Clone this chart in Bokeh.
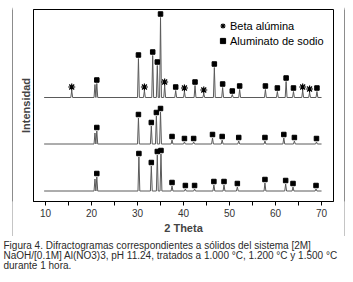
from bokeh.plotting import figure
from bokeh.layouts import column, row
from bokeh.models import (Range1d, FixedTicker, Label, Legend, LegendItem)
from bokeh.embed import file_html
from bokeh.resources import INLINE

# ---------------- data ----------------
x_ticks = [10, 20, 30, 40, 50, 60, 70]
x_minor = [5, 15, 25, 35, 45, 55, 65, 75]

# trace 1 (top): peak positions (2θ), heights (a.u.), phase ('s' aluminato, 'b' beta, '' none)
top_pos = [15.7, 20.75, 21.15, 30.2, 31.5, 33.3, 34.3, 35.0, 35.9, 38.3, 40.2, 42.5, 44.4,
           46.7, 48.5, 50.6, 52.2, 57.8, 60.4, 62.3, 63.9, 65.9, 67.4, 69.0]
top_h = [7, 13, 14, 39, 7, 42, 32, 80, 12, 7, 6, 12, 4,
         30, 10, 3, 8, 8, 6, 16, 6, 7, 5, 6]
top_phase = ['b', '', 's', 's', 'b', 's', 's', 's', 'b', 's', 'b', 's', 'b',
             's', 's', 's', 's', 's', 's', 's', 's', 'b', 'b', 's']

# trace 2 (middle)
mid_pos = [20.75, 21.15, 30.2, 33.0, 34.1, 35.0, 37.5, 40.2, 42.2, 46.3, 48.4, 52.0,
           57.7, 61.8, 64.1, 68.9]
mid_h = [11, 13, 26, 18, 28, 32, 4, 2, 2, 6, 4, 3, 3, 6, 3, 2]
mid_phase = ['', 's', 's', 's', 's', 's', 's', 's', 's', 's', 's', 's', 's', 's', 's', 's']

# trace 3 (bottom)
bot_pos = [20.75, 21.15, 30.3, 33.0, 34.3, 35.1, 37.5, 40.4, 42.4, 46.6, 48.8, 51.7,
           57.7, 62.2, 63.8, 68.8]
bot_h = [12, 14, 34, 25, 36, 37, 5, 2, 2, 6, 6, 4, 8, 7, 4, 2]
bot_phase = ['', 's', 's', 's', 's', 's', 's', 's', 's', 's', 's', 's', 's', 's', 's', 's']

offsets = [104, 57.5, 10.5]          # vertical offset of each trace
x_start, x_end = 9.7, 70.0            # scanned 2θ range

legend_labels = ["Beta alúmina", "Aluminato de sodio"]
x_label = "2 Theta"
y_label = "Intensidad"
caption = ["Figura 4. Difractogramas correspondientes a sólidos del sistema  [2M]",
           "NaOH/[0.1M] Al(NO3)3,  pH 11.24, tratados a 1.000 °C, 1.200 °C y 1.500 °C",
           "durante 1 hora."]

# ---------------- chart ----------------
FONT = "Arial"
HW = 0.2      # half width of a drawn peak
GAP = 3.5     # marker distance above a peak
BOX = "#1a1a1a"

p = figure(width=331, height=229, x_range=Range1d(7.39, 72.6), y_range=Range1d(0, 192),
           output_backend="svg", toolbar_location=None,
           min_border_left=20, min_border_right=11, min_border_top=2, min_border_bottom=35)
p.grid.visible = False
p.outline_line_color = "black"
p.outline_line_width = 1
p.background_fill_color = "white"
p.border_fill_color = "white"

p.xaxis.ticker = FixedTicker(ticks=x_ticks, minor_ticks=x_minor)
p.xaxis.major_tick_out = 4
p.xaxis.major_tick_in = 0
p.xaxis.minor_tick_out = 4
p.xaxis.minor_tick_in = 0
p.xaxis.major_label_standoff = 3
p.xaxis.major_label_text_font = FONT
p.xaxis.major_label_text_font_size = "10px"
p.xaxis.major_label_text_color = "#333333"
p.xaxis.axis_label = x_label
p.xaxis.axis_label_text_font = FONT
p.xaxis.axis_label_text_font_size = "11px"
p.xaxis.axis_label_text_font_style = "bold"
p.xaxis.axis_label_standoff = 2
p.xaxis.axis_line_color = "black"
p.xaxis.major_tick_line_color = "black"
p.xaxis.minor_tick_line_color = "black"

p.yaxis.ticker = FixedTicker(ticks=[])
p.yaxis.major_tick_out = 0
p.yaxis.minor_tick_out = 0
p.yaxis.major_label_standoff = 0
p.yaxis.axis_label = y_label
p.yaxis.axis_label_text_font = FONT
p.yaxis.axis_label_text_font_size = "11px"
p.yaxis.axis_label_text_font_style = "bold"
p.yaxis.axis_label_standoff = 2
p.yaxis.axis_line_color = "black"

marks = {'s': ([], []), 'b': ([], [])}
for pos, hts, ph, off in [(top_pos, top_h, top_phase, offsets[0]),
                          (mid_pos, mid_h, mid_phase, offsets[1]),
                          (bot_pos, bot_h, bot_phase, offsets[2])]:
    xs, ys = [x_start], [off]
    for xp, hh, f in zip(pos, hts, ph):
        xs += [xp - HW, xp, xp + HW]
        ys += [off, off + hh, off]
        if f:
            marks[f][0].append(xp)
            marks[f][1].append(off + hh + GAP)
    xs.append(x_end)
    ys.append(off)
    p.line(xs, ys, line_color="#5a5a5a", line_width=1)

sq = p.scatter(marks['s'][0], marks['s'][1], marker="square", size=4.5,
               fill_color="black", line_color="black")
st = p.scatter(marks['b'][0], marks['b'][1], marker="asterisk", size=7,
               line_color="black", line_width=1.2)

legend = Legend(items=[LegendItem(label=legend_labels[0], renderers=[st]),
                       LegendItem(label=legend_labels[1], renderers=[sq])],
                location=(183, 154), glyph_width=13, glyph_height=13, label_height=13,
                label_standoff=1, spacing=2, padding=0, margin=0,
                border_line_color=None, background_fill_alpha=0,
                label_text_font=FONT, label_text_font_size="11px", label_text_color="black")
p.add_layout(legend)


def edge(w, h):
    """a thin solid figure used as one side of the outer frame"""
    f = figure(width=w, height=h, x_range=Range1d(0, 1), y_range=Range1d(0, 1),
               output_backend="svg", toolbar_location=None,
               x_axis_location=None, y_axis_location=None,
               min_border=0, min_border_left=0, min_border_right=0,
               min_border_top=0, min_border_bottom=0)
    f.grid.visible = False
    f.outline_line_color = None
    f.background_fill_color = BOX
    f.border_fill_color = BOX
    return f


top_edge = edge(333, 1)
top_edge.margin = (6, 0, 0, 12)
mid = row(edge(1, 229), p, edge(1, 229), spacing=0)
mid.margin = (0, 0, 0, 12)
bottom_edge = edge(333, 1)
bottom_edge.margin = (0, 0, 0, 12)

# ---------------- caption ----------------
c = figure(width=353, height=45, x_range=Range1d(0, 1), y_range=Range1d(0, 1),
           output_backend="svg", toolbar_location=None,
           x_axis_location=None, y_axis_location=None,
           min_border=0, min_border_left=0, min_border_right=0,
           min_border_top=0, min_border_bottom=0)
c.grid.visible = False
c.outline_line_color = None
c.background_fill_color = "white"
c.border_fill_color = "white"
for i, line in enumerate(caption):
    c.add_layout(Label(x=3, y=37 - 10 * i, x_units="screen", y_units="screen",
                       text=line, text_font=FONT, text_font_size="10px",
                       text_color="#2a2a2a", text_baseline="middle"))

layout = column(top_edge, mid, bottom_edge, c, spacing=0)
open("out.html", "w").write(file_html(layout, INLINE))
